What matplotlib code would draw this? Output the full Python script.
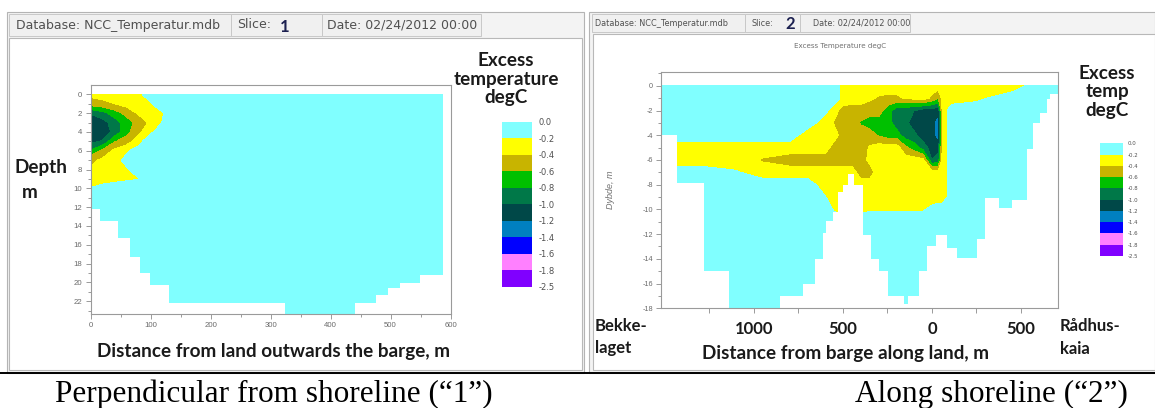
import numpy as np
import matplotlib
matplotlib.use("Agg")
import matplotlib.pyplot as plt
from matplotlib.colors import ListedColormap, BoundaryNorm
from matplotlib.cm import ScalarMappable
from matplotlib.patches import Rectangle
from matplotlib.lines import Line2D
import matplotlib.ticker as mticker

# ---------------- data ----------------
level_bounds = [-2.5, -1.8, -1.6, -1.4, -1.2, -1.0, -0.8, -0.6, -0.4, -0.2, 0.0]
level_labels = ["-2.5", "-1.8", "-1.6", "-1.4", "-1.2", "-1.0", "-0.8", "-0.6", "-0.4", "-0.2", "0.0"]
class_colors = ["#8000FF", "#FF80FF", "#0000FF", "#0080C0", "#004848",
                "#007848", "#00C000", "#C8B400", "#FFFF00", "#80FFFF"]

# Slice 1: perpendicular from shoreline (distance m, depth m)
left_x = [0, 20, 40, 60, 80, 100, 120, 140, 160, 587]
left_depth = [0, 1, 2, 3, 4, 5, 6, 7, 8, 9, 10, 11, 23.6]
left_temp = [
    [-0.35, -0.33, -0.30, -0.27, -0.22, -0.15, -0.05, 0.00, 0.0, 0.0],
    [-0.50, -0.45, -0.40, -0.33, -0.27, -0.21, -0.10, 0.00, 0.0, 0.0],
    [-0.98, -0.87, -0.70, -0.53, -0.37, -0.28, -0.21, -0.10, 0.0, 0.0],
    [-1.15, -1.08, -0.90, -0.70, -0.52, -0.36, -0.19, -0.05, 0.0, 0.0],
    [-1.18, -1.10, -0.95, -0.67, -0.45, -0.25, -0.05, 0.00, 0.0, 0.0],
    [-1.06, -0.98, -0.62, -0.50, -0.30, 0.00, 0.00, 0.00, 0.0, 0.0],
    [-0.78, -0.55, -0.35, -0.23, -0.10, 0.00, 0.00, 0.00, 0.0, 0.0],
    [-0.45, -0.36, -0.26, -0.15, -0.05, 0.00, 0.00, 0.00, 0.0, 0.0],
    [-0.38, -0.33, -0.28, -0.22, -0.10, 0.00, 0.00, 0.00, 0.0, 0.0],
    [-0.33, -0.30, -0.27, -0.24, -0.21, -0.05, 0.00, 0.00, 0.0, 0.0],
    [-0.19, -0.12, -0.08, -0.05, -0.02, 0.00, 0.00, 0.00, 0.0, 0.0],
    [0.0] * 10,
    [0.0] * 10,
]
left_bed_x = [0, 16, 46, 65, 82, 99, 130, 324, 441, 475, 496, 515, 549, 587]
left_bed_depth = [12.2, 13.5, 15.3, 17.3, 19.0, 20.3, 22.2, 24.0, 22.2, 21.4, 20.6, 20.1, 19.2]
left_xticks = [0, 100, 200, 300, 400, 500, 600]
left_yticks = [0, 2, 4, 6, 8, 10, 12, 14, 16, 18, 20, 22]

# Slice 2: along shoreline (signed distance m, level m)
right_s = [-1525, -1300, -1100, -950, -800, -700, -600, -550, -500, -450, -400, -350, -300,
           -250, -200, -150, -100, -50, 0, 35, 60, 110, 250, 450, 600, 708]
right_z = [0, -1, -2, -3, -4, -5, -6, -7, -8, -9, -10, -11, -18]
C = -0.1
right_temp = [
    [C, C, C, C, C, C, C, C, -0.25, -0.3, -0.3, -0.3, -0.3, -0.3, -0.3, -0.3, -0.3, -0.3, -0.3, -0.3, -0.3, -0.3, -0.3, -0.3, C, C],
    [C, C, C, C, C, C, C, C, -0.25, -0.3, -0.3, -0.37, -0.42, -0.45, -0.45, -0.38, -0.35, -0.3, -0.45, -0.6, -0.3, -0.3, -0.24, C, C, C],
    [C, C, C, C, C, C, -0.15, -0.3, -0.5, -0.5, -0.5, -0.5, -0.5, -0.7, -0.9, -0.95, -1.0, -1.1, -1.1, -1.15, -0.3, C, C, C, C, C],
    [C, C, C, C, C, C, -0.3, -0.42, -0.5, -0.5, -0.62, -0.7, -0.7, -0.7, -0.9, -0.95, -1.1, -1.1, -1.15, -1.3, -0.3, C, C, C, C, C],
    [C, C, C, C, C, -0.3, -0.3, -0.3, -0.5, -0.5, -0.5, -0.5, -0.62, -0.7, -0.7, -0.9, -0.95, -1.1, -1.15, -1.3, -0.3, C, C, C, C, C],
    [-0.3, -0.3, -0.3, -0.3, -0.3, -0.3, -0.3, -0.5, -0.5, -0.5, -0.5, -0.38, -0.3, -0.3, -0.3, -0.55, -0.7, -0.9, -1.1, -1.1, -0.3, C, C, C, C, C],
    [-0.3, -0.3, -0.3, -0.42, -0.5, -0.5, -0.5, -0.5, -0.5, -0.5, -0.5, -0.35, -0.3, -0.3, -0.3, -0.3, -0.3, -0.35, -1.0, -0.9, -0.3, C, C, C, C, C],
    [C, C, -0.18, -0.3, -0.3, -0.3, -0.3, -0.3, -0.3, -0.3, -0.5, -0.5, -0.3, -0.3, -0.3, -0.3, -0.3, -0.3, -0.3, -0.3, -0.3, C, C, C, C, C],
    [C, C, C, C, C, C, -0.3, -0.3, -0.3, -0.3, -0.3, -0.3, -0.3, -0.3, -0.3, -0.3, -0.3, -0.3, -0.3, -0.3, -0.3, C, C, C, C, C],
    [C, C, C, C, C, C, -0.19, -0.3, -0.3, -0.3, -0.3, -0.3, -0.3, -0.3, -0.3, -0.3, -0.3, -0.3, -0.3, -0.3, -0.3, C, C, C, C, C],
    [C, C, C, C, C, C, C, -0.22, -0.3, -0.3, -0.25, -0.22, -0.22, -0.22, -0.22, -0.22, -0.22, -0.22, -0.15, C, C, C, C, C, C, C],
    [C] * 26,
    [C] * 26,
]
right_bed_s = [-1525, -1432, -1283, -1143, -855, -724, -659, -612, -594, -556, -530, -501, -473,
               -436, -389, -344, -296, -249, -156, -137, -73, -26, 21, 86, 142, 254, 300, 374,
               449, 533, 570, 607, 645, 663, 708]
right_bed_z = [-4.0, -7.9, -15.0, -18.5, -17.0, -16.05, -14.05, -11.9, -10.9, -10.2, -8.6, -8.05,
               -7.1, -8.05, -12.05, -14.05, -15.0, -17.0, -17.65, -17.0, -15.0, -13.0, -12.05,
               -13.1, -13.9, -12.4, -9.1, -9.9, -9.25, -5.1, -3.0, -2.2, -1.1, -0.7]
right_yticks = [0, -2, -4, -6, -8, -10, -12, -14, -16, -18]
right_xtick_pos = [-1000, -500, 0, 500]
right_xtick_labels = ["1000", "500", "0", "500"]

# ---------------- figure ----------------
W, H = 1155, 408
fig = plt.figure(figsize=(W / 100, H / 100), dpi=100)
fig.patch.set_facecolor("white")

BOLD = ["Lato", "DejaVu Sans"]
SANS = ["Liberation Sans", "DejaVu Sans"]
HEAD = ["DejaVu Sans"]
GRAY = "#9a9a9a"
TXT = "#6a6a6a"
BIG = 13.6


def fx(px):
    return px / W


def fy(py):
    return 1 - py / H


def rect(x0, y0, x1, y1, fc="none", ec="none", lw=0.8, z=0):
    fig.add_artist(Rectangle((fx(x0), fy(y1)), fx(x1) - fx(x0), fy(y0) - fy(y1),
                             transform=fig.transFigure, facecolor=fc, edgecolor=ec,
                             linewidth=lw, zorder=z))


def text(px, py, s, **kw):
    return fig.text(fx(px), fy(py), s, **kw)


# window frames
rect(7, 12, 584, 373, fc="#f3f3f3", ec="#b4b4b4", lw=0.8)
rect(9, 38, 582, 370, fc="white", ec="#b8b8b8", lw=0.8)
for a, b in [(9, 231), (231, 322), (322, 481)]:
    rect(a, 14, b, 36, fc="#f0f0f0", ec="#c8c8c8", lw=0.7)
rect(589, 12, 1155, 373, fc="#f3f3f3", ec="#b4b4b4", lw=0.8)
rect(593, 34, 1155, 370, fc="white", ec="#b8b8b8", lw=0.8)
for a, b in [(592, 745), (745, 800), (800, 910)]:
    rect(a, 14, b, 32, fc="#f0f0f0", ec="#c8c8c8", lw=0.7)
fig.add_artist(Line2D([0, 1], [fy(373), fy(373)], transform=fig.transFigure,
                      color="black", linewidth=1.4))

# headers
text(16, 25, "Database: NCC_Temperatur.mdb", fontsize=9, color="#505050", va="center", family=HEAD)
text(237, 25, "Slice:", fontsize=9, color="#505050", va="center", family=HEAD)
text(285, 27, "1", fontsize=12, color="#1c2050", va="center", ha="center", fontweight="bold", family=BOLD)
text(327, 25, "Date: 02/24/2012 00:00", fontsize=9, color="#505050", va="center", family=HEAD)
text(595, 23, "Database: NCC_Temperatur.mdb", fontsize=5.9, color="#505050", va="center", family=HEAD)
text(752, 23, "Slice:", fontsize=5.9, color="#505050", va="center", family=HEAD)
text(790, 24, "2", fontsize=12, color="#1c2050", va="center", ha="center", fontweight="bold", family=BOLD)
text(813, 23, "Date: 02/24/2012 00:00", fontsize=5.9, color="#505050", va="center", family=HEAD)
text(840, 46, "Excess Temperature degC", fontsize=5.1, color="#707070", va="center", ha="center", family=HEAD)

levels = level_bounds[:-1] + [0.05]


def style_axes(ax):
    for sp in ax.spines.values():
        sp.set_color(GRAY)
        sp.set_linewidth(0.8)
        sp.set_zorder(5)
    ax.tick_params(which="both", direction="out", color=GRAY, width=0.7)
    ax.tick_params(which="major", length=3.5)
    ax.tick_params(which="minor", length=2.5)


# ---------------- left slice ----------------
axL = fig.add_axes([fx(90.6), fy(314), fx(450.6) - fx(90.6), fy(85) - fy(314)])
axL.contourf(left_x, left_depth, np.array(left_temp), levels=levels, colors=class_colors, zorder=1)
axL.fill_between(left_bed_x, left_bed_depth + [left_bed_depth[-1]], 40, step="post",
                 color="white", linewidth=0, zorder=2)
axL.set_xlim(0, 600)
axL.set_ylim(23.37, -0.99)
axL.set_xticks(left_xticks)
axL.set_yticks(left_yticks)
axL.xaxis.set_minor_locator(mticker.MultipleLocator(50))
axL.yaxis.set_minor_locator(mticker.MultipleLocator(1))
style_axes(axL)
axL.tick_params(axis="both", labelsize=5.6, labelcolor=TXT, pad=2.5)
for lab in axL.get_xticklabels() + axL.get_yticklabels():
    lab.set_family(SANS)
axL.set_xlabel("Distance from land outwards the barge, m", fontsize=BIG, fontweight="bold",
               family=BOLD, color="#1a1a1a")
axL.xaxis.set_label_coords((273.5 - 90.6) / 360, (314 - 351.7) / 229)
axL.xaxis.label.set_va("center")
text(41, 167, "Depth", fontsize=BIG, fontweight="bold", family=BOLD, color="#1a1a1a", ha="center", va="center")
text(30, 192, "m", fontsize=BIG, fontweight="bold", family=BOLD, color="#1a1a1a", ha="center", va="center")

# colour legend (left)
cmap = ListedColormap(class_colors)
norm = BoundaryNorm(level_bounds, cmap.N)
caxL = fig.add_axes([fx(501.7), fy(286.7), fx(531.7) - fx(501.7), fy(121.7) - fy(286.7)])
cbL = fig.colorbar(ScalarMappable(norm=norm, cmap=cmap), cax=caxL, ticks=level_bounds, spacing="uniform")
cbL.ax.set_yticklabels(level_labels)
cbL.outline.set_visible(False)
cbL.ax.tick_params(length=0, labelsize=6, pad=5, labelcolor="#505050")
text(506, 79, "Excess\ntemperature\ndegC", fontsize=BIG, fontweight="bold", family=BOLD,
     color="#1a1a1a", ha="center", va="center", linespacing=1.12)

# ---------------- right slice ----------------
axR = fig.add_axes([fx(660.5), fy(308.3), fx(1058) - fx(660.5), fy(71.7) - fy(308.3)])
axR.contourf(right_s, right_z, np.array(right_temp), levels=levels, colors=class_colors, zorder=1)
axR.fill_between(right_bed_s, right_bed_z + [right_bed_z[-1]], -40, step="post",
                 color="white", linewidth=0, zorder=2)
axR.set_xlim(-1525, 708)
axR.set_ylim(-17.78, 1.14)
axR.set_yticks(right_yticks)
axR.yaxis.set_major_formatter(mticker.FuncFormatter(lambda v, p: "%d" % v))
axR.yaxis.set_minor_locator(mticker.MultipleLocator(1))
axR.set_xticks(right_xtick_pos)
axR.set_xticklabels(right_xtick_labels)
axR.xaxis.set_minor_locator(mticker.FixedLocator([-1250, -750, -250, 250]))
style_axes(axR)
axR.tick_params(axis="x", which="minor", length=3.5)
axR.tick_params(axis="y", labelsize=5.2, labelcolor=TXT, pad=2)
axR.tick_params(axis="x", labelsize=12, pad=6)
for lab in axR.get_yticklabels():
    lab.set_family(SANS)
for lab in axR.get_xticklabels():
    lab.set_family(BOLD)
    lab.set_fontweight("bold")
    lab.set_color("#1a1a1a")
axR.set_xlabel("Distance from barge along land, m", fontsize=BIG, fontweight="bold",
               family=BOLD, color="#1a1a1a")
axR.xaxis.set_label_coords((846 - 660.5) / 397.5, (308.3 - 353.3) / 236.6)
axR.xaxis.label.set_va("center")
axR.set_ylabel("Dybde, m", fontsize=6.5, style="italic", color="#707070", family=SANS)
axR.yaxis.set_label_coords((615 - 660.5) / 397.5, (308.3 - 190) / 236.6)
text(595, 318, "Bekke-\nlaget", fontsize=12, fontweight="bold", family=BOLD, color="#1a1a1a",
     ha="left", va="top", linespacing=1.5)
text(1060, 318, "R\u00e5dhus-\nkaia", fontsize=12, fontweight="bold", family=BOLD, color="#1a1a1a",
     ha="left", va="top", linespacing=1.5)

# colour legend (right)
caxR = fig.add_axes([fx(1100), fy(256), fx(1123.3) - fx(1100), fy(143.3) - fy(256)])
cbR = fig.colorbar(ScalarMappable(norm=norm, cmap=cmap), cax=caxR, ticks=level_bounds, spacing="uniform")
cbR.ax.set_yticklabels(level_labels)
cbR.outline.set_visible(False)
cbR.ax.tick_params(length=0, labelsize=3.9, pad=3, labelcolor="#505050")
text(1107, 92, "Excess\ntemp\ndegC", fontsize=BIG, fontweight="bold", family=BOLD,
     color="#1a1a1a", ha="center", va="center", linespacing=1.08)

# captions
SERIF = ["Liberation Serif", "DejaVu Serif"]
text(55, 402, "Perpendicular from shoreline (\u201c1\u201d)", fontsize=22.5, family=SERIF,
     color="black", ha="left", va="baseline")
text(855, 402, "Along shoreline (\u201c2\u201d)", fontsize=22.5, family=SERIF,
     color="black", ha="left", va="baseline")

fig.savefig("out.png", dpi=100, facecolor="white")
